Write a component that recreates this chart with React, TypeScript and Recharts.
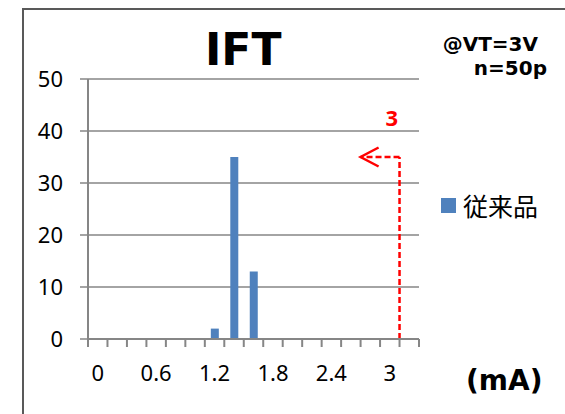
import React from 'react';
import { BarChart, Bar, XAxis, YAxis, CartesianGrid, ReferenceLine, ReferenceDot, Legend } from 'recharts';

// ---- data ----
const binCenters = [0, 0.2, 0.4, 0.6, 0.8, 1.0, 1.2, 1.4, 1.6, 1.8, 2.0, 2.2, 2.4, 2.6, 2.8, 3.0, 3.2];
const counts = [0, 0, 0, 0, 0, 0, 2, 35, 13, 0, 0, 0, 0, 0, 0, 0, 0];
const seriesName = '従来品';
const yTicks = [0, 10, 20, 30, 40, 50];
// bin boundaries (tick marks between categories)
const binEdges = [-0.1, 0.1, 0.3, 0.5, 0.7, 0.9, 1.1, 1.3, 1.5, 1.7, 1.9, 2.1, 2.3, 2.5, 2.7, 2.9, 3.1, 3.3];
// labelled bin centres and their texts
const labelValues = [0, 0.6, 1.2, 1.8, 2.4, 3.0];
const labelTexts = ['0', '0.6', '1.2', '1.8', '2.4', '3'];
const xDomain = [-0.1, 3.3];
const specLimitX = 3.1;
const arrowY = 35;
const arrowEndX = 2.7;
const limitLabel = '3';
const limitLabelPos = { x: 3.02, y: 42.5 };
const title = 'IFT';
const condLines = ['@VT=3V', 'n=50p'];
const unitLabel = '(mA)';

const data = binCenters.map((c, i) => ({ xv: c, count: counts[i] }));
const xTicks = [...binEdges, ...labelValues].sort((a, b) => a - b);
const isEdge = (v: number) => binEdges.some((e) => Math.abs(e - v) < 1e-9);
const labelFor = (v: number) => {
  const i = labelValues.findIndex((l) => Math.abs(l - v) < 1e-9);
  return i >= 0 ? labelTexts[i] : '';
};

const GRID = '#868686';
const BAR = '#4f81bd';
const RED = '#ff0000';
const TICK_LEN = 8;

const XTick = (props: any) => {
  const { x, y, payload } = props;
  const v = payload.value;
  if (isEdge(v)) {
    return <line x1={x} y1={y - TICK_LEN} x2={x} y2={y} stroke={GRID} strokeWidth={2} />;
  }
  return (
    <text
      x={x}
      y={y + 18}
      dy="0.71em"
      textAnchor="middle"
      fill="#000"
      fontSize={22}
      fontFamily='"Noto Sans", sans-serif'
    >
      {labelFor(v)}
    </text>
  );
};

const ArrowShape = (props: any) => {
  const { x1, y1, x2, y2 } = props;
  return (
    <g>
      <line x1={x1} y1={y1} x2={x2} y2={y2} stroke={RED} strokeWidth={2.5} strokeDasharray="6 3" />
      <polyline
        points={`${x2 + 18},${y2 - 9.5} ${x2},${y2} ${x2 + 18},${y2 + 9.5}`}
        fill="none"
        stroke={RED}
        strokeWidth={2.5}
      />
    </g>
  );
};

const LegendContent = (props: any) => {
  const payload = props.payload || [];
  return (
    <div>
      {payload.map((p: any, i: number) => (
        <div key={i} style={{ display: 'flex', alignItems: 'center' }}>
          <span style={{ display: 'inline-block', width: 15, height: 15, background: p.color, marginRight: 7 }} />
          <span style={{ fontFamily: '"Noto Sans CJK JP", sans-serif', fontSize: 25, lineHeight: 1, color: '#000' }}>
            {p.value}
          </span>
        </div>
      ))}
    </div>
  );
};

const lineStyle = { stroke: GRID, strokeWidth: 2 };
const tickTextStyle = { fill: '#000', fontSize: 22, fontFamily: '"Noto Sans", sans-serif' };

export default function App() {
  return (
    <div style={{ position: 'absolute', left: 0, top: 0, width: 565, height: 414, overflow: 'hidden', background: '#fff' }}>
      <div
        style={{
          position: 'absolute',
          left: 22,
          top: 8,
          width: 620,
          height: 440,
          border: '2px solid #595959',
          boxSizing: 'border-box',
        }}
      />
      <BarChart
        width={565}
        height={414}
        data={data}
        margin={{ top: 79, right: 146, bottom: 0, left: 0 }}
        barSize={8}
      >
        <CartesianGrid vertical={false} stroke={GRID} strokeWidth={1.5} />
        <XAxis
          dataKey="xv"
          type="number"
          domain={xDomain}
          allowDataOverflow
          ticks={xTicks}
          interval={0}
          tickLine={false}
          tickSize={0}
          tickMargin={TICK_LEN}
          height={75}
          axisLine={lineStyle}
          tick={<XTick />}
        />
        <YAxis
          domain={[0, 50]}
          ticks={yTicks}
          interval={0}
          width={88}
          tickSize={8}
          tickMargin={17}
          axisLine={lineStyle}
          tickLine={{ stroke: GRID, strokeWidth: 1.5 }}
          tick={tickTextStyle}
        />
        <Bar dataKey="count" name={seriesName} fill={BAR} isAnimationActive={false} />
        <ReferenceLine
          segment={[{ x: specLimitX, y: 0 }, { x: specLimitX, y: arrowY }]}
          stroke={RED}
          strokeWidth={2.5}
          strokeDasharray="6 3"
        />
        <ReferenceLine
          segment={[{ x: specLimitX, y: arrowY }, { x: arrowEndX, y: arrowY }]}
          stroke={RED}
          shape={ArrowShape}
        />
        <ReferenceDot
          x={limitLabelPos.x}
          y={limitLabelPos.y}
          r={0}
          stroke="none"
          fill="none"
          label={{
            value: limitLabel,
            position: 'center',
            fill: RED,
            fontSize: 22,
            fontWeight: 'bold',
            fontFamily: '"Noto Sans", sans-serif',
          }}
        />
        <Legend
          layout="horizontal"
          verticalAlign="middle"
          align="center"
          content={LegendContent}
          wrapperStyle={{ left: 441, top: 193, width: 'auto', height: 'auto' }}
        />
      </BarChart>
      <div
        style={{
          position: 'absolute',
          left: 205,
          top: 28,
          fontFamily: '"DejaVu Sans", sans-serif',
          fontWeight: 'bold',
          fontSize: 44,
          lineHeight: 1,
          color: '#000',
          whiteSpace: 'nowrap',
        }}
      >
        {title}
      </div>
      <div
        style={{
          position: 'absolute',
          right: 27,
          top: 34,
          fontFamily: '"DejaVu Sans", sans-serif',
          fontWeight: 'bold',
          fontSize: 20,
          lineHeight: 1,
          color: '#000',
          whiteSpace: 'nowrap',
          textAlign: 'right',
        }}
      >
        {condLines[0]}
      </div>
      <div
        style={{
          position: 'absolute',
          right: 18,
          top: 58,
          fontFamily: '"DejaVu Sans", sans-serif',
          fontWeight: 'bold',
          fontSize: 20,
          lineHeight: 1,
          color: '#000',
          whiteSpace: 'nowrap',
          textAlign: 'right',
        }}
      >
        {condLines[1]}
      </div>
      <div
        style={{
          position: 'absolute',
          left: 466,
          top: 367,
          fontFamily: '"DejaVu Sans", sans-serif',
          fontWeight: 'bold',
          fontSize: 28,
          lineHeight: 1,
          color: '#000',
          whiteSpace: 'nowrap',
        }}
      >
        {unitLabel}
      </div>
    </div>
  );
}
